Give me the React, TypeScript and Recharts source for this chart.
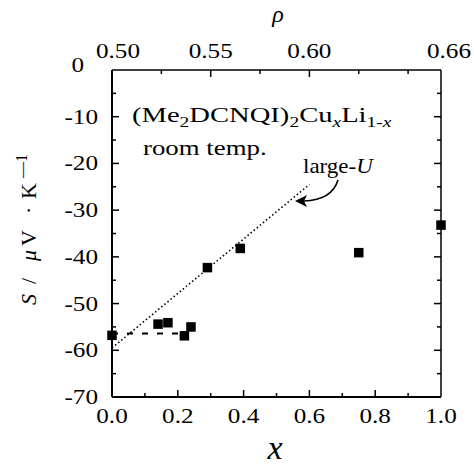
import React from 'react';
import { ComposedChart, Scatter, XAxis, YAxis } from 'recharts';

// ---- data ----
const xValues = [0.0, 0.14, 0.17, 0.22, 0.24, 0.29, 0.39, 0.75, 1.0];
const sValues = [-56.8, -54.4, -54.1, -56.9, -55.0, -42.3, -38.2, -39.1, -33.2];

const largeUX = [0.0, 0.6];
const largeUS = [-59.5, -24.5];

const flatX = [0.0, 0.23];
const flatS = [-56.4, -56.4];

const xTicks = [0, 0.1, 0.2, 0.3, 0.4, 0.5, 0.6, 0.7, 0.8, 0.9, 1.0];
const xTickLabels = ['0.0', '', '0.2', '', '0.4', '', '0.6', '', '0.8', '', '1.0'];

const sTicks = [0, -5, -10, -15, -20, -25, -30, -35, -40, -45, -50, -55, -60, -65, -70];
const sTickLabels = ['0', '', '-10', '', '-20', '', '-30', '', '-40', '', '-50', '', '-60', '', '-70'];

const rhoTicks = [0.5, 0.525, 0.55, 0.575, 0.6, 0.625, 0.65, 0.5 + 1 / 6];
const rhoTickLabels = ['0.50', '', '0.55', '', '0.60', '', '', '0.66'];

// ---- derived ----
const points = xValues.map((x, i) => ({ x, y: sValues[i] }));
const largeU = largeUX.map((x, i) => ({ x, y: largeUS[i] }));
const flat = flatX.map((x, i) => ({ x, y: flatS[i] }));
const rhoToX = (r: number) => Math.round((r - 0.5) * 6 * 1e6) / 1e6;
const topTicks = rhoTicks.map(rhoToX);

const FONT = "'Liberation Serif', 'Times New Roman', serif";
const SX = 1.2;

const findIdx = (arr: number[], v: number) => arr.findIndex((a) => Math.abs(a - v) < 1e-6);

const BottomTick = (props: any) => {
  const { x, payload } = props;
  const y = 397;
  const i = findIdx(xTicks, payload.value);
  const label = i >= 0 ? xTickLabels[i] : '';
  const major = label !== '';
  return (
    <g>
      {i > 0 && i < xTicks.length - 1 && (
        <line x1={x} x2={x} y1={y} y2={y - (major ? 7 : 4)} stroke="#000" strokeWidth={1.5} />
      )}
      {label && (
        <text transform={`translate(${x},${y + 26}) scale(${SX},1)`} textAnchor="middle" fontFamily={FONT} fontSize={21} fill="#000">
          {label}
        </text>
      )}
    </g>
  );
};

const LeftTick = (props: any) => {
  const { y, payload } = props;
  const x = 112;
  const i = findIdx(sTicks, payload.value);
  const label = i >= 0 ? sTickLabels[i] : '';
  const major = label !== '';
  const isZero = payload.value === 0;
  return (
    <g>
      {i > 0 && i < sTicks.length - 1 && (
        <line x1={x} x2={x + (major ? 7 : 4)} y1={y} y2={y} stroke="#000" strokeWidth={1.5} />
      )}
      {label && (
        <text
          transform={`translate(${isZero ? x - 28 : x - 14},${isZero ? y + 2 : y + 7}) scale(${SX},1)`}
          textAnchor="end"
          fontFamily={FONT}
          fontSize={21}
          fill="#000"
        >
          {label}
        </text>
      )}
    </g>
  );
};

const RightTick = (props: any) => {
  const { y, payload } = props;
  const x = 441;
  const i = findIdx(sTicks, payload.value);
  const major = i % 2 === 0;
  if (i <= 0 || i >= sTicks.length - 1) return <g />;
  return <line x1={x} x2={x - (major ? 7 : 4)} y1={y} y2={y} stroke="#000" strokeWidth={1.5} />;
};

const TopTick = (props: any) => {
  const { x, payload } = props;
  const y = 70;
  const i = findIdx(topTicks, payload.value);
  const label = i >= 0 ? rhoTickLabels[i] : '';
  const major = label !== '';
  const shift = i === 0 ? 6 : i === topTicks.length - 1 ? 8 : 0;
  return (
    <g>
      {i > 0 && i < topTicks.length - 1 && (
        <line x1={x} x2={x} y1={y} y2={y + (major ? 7 : 4)} stroke="#000" strokeWidth={1.5} />
      )}
      {label && (
        <text transform={`translate(${x + shift},${y - 12}) scale(${SX},1)`} textAnchor="middle" fontFamily={FONT} fontSize={21} fill="#000">
          {label}
        </text>
      )}
    </g>
  );
};

const Square = (p: any) => <rect x={p.cx - 4.75} y={p.cy - 4.75} width={9.5} height={9.5} fill="#000" />;
const NoShape = () => <g />;

export default function App() {
  return (
    <div style={{ position: 'absolute', left: 0, top: 0, width: 474, height: 466, background: '#fff' }}>
      <ComposedChart width={474} height={466} margin={{ top: 69, right: 32, bottom: 68, left: 111 }}>
        <XAxis
          xAxisId="b"
          dataKey="x"
          type="number"
          domain={[0, 1]}
          ticks={xTicks}
          interval={0}
          height={1}
          tickSize={0}
          tickMargin={0}
          tickLine={false}
          axisLine={{ stroke: '#000', strokeWidth: 2 }}
          tick={<BottomTick />}
        />
        <XAxis
          xAxisId="t"
          orientation="top"
          dataKey="x"
          type="number"
          domain={[0, 1]}
          ticks={topTicks}
          interval={0}
          height={1}
          tickSize={0}
          tickMargin={0}
          tickLine={false}
          axisLine={{ stroke: '#000', strokeWidth: 1.5 }}
          tick={<TopTick />}
        />
        <YAxis
          yAxisId="l"
          dataKey="y"
          type="number"
          domain={[-70, 0]}
          ticks={sTicks}
          interval={0}
          width={1}
          tickSize={0}
          tickMargin={0}
          tickLine={false}
          axisLine={{ stroke: '#000', strokeWidth: 2 }}
          tick={<LeftTick />}
        />
        <YAxis
          yAxisId="r"
          orientation="right"
          dataKey="y"
          type="number"
          domain={[-70, 0]}
          ticks={sTicks}
          interval={0}
          width={1}
          tickSize={0}
          tickMargin={0}
          tickLine={false}
          axisLine={{ stroke: '#000', strokeWidth: 1.5 }}
          tick={<RightTick />}
        />
        <Scatter
          xAxisId="b"
          yAxisId="l"
          data={largeU}
          line={{ stroke: '#000', strokeWidth: 1.6, strokeDasharray: '1.5 2.5' }}
          shape={<NoShape />}
          isAnimationActive={false}
        />
        <Scatter
          xAxisId="t"
          yAxisId="r"
          data={flat}
          line={{ stroke: '#000', strokeWidth: 2, strokeDasharray: '6 9' }}
          shape={<NoShape />}
          isAnimationActive={false}
        />
        <Scatter xAxisId="b" yAxisId="l" data={points} shape={<Square />} isAnimationActive={false} />
      </ComposedChart>
      <svg
        width={474}
        height={466}
        style={{ position: 'absolute', left: 0, top: 0, pointerEvents: 'none' }}
      >
        <text x={278} y={22} textAnchor="middle" fontFamily={FONT} fontSize={24} fontStyle="italic" fill="#000">
          ρ
        </text>
        <text x={275} y={459} textAnchor="middle" fontFamily={FONT} fontSize={34} fontStyle="italic" fill="#000">
          x
        </text>
        <text transform="translate(36,305) rotate(-90)" fontFamily={FONT} fontSize={22} fill="#000">
          <tspan x={0} fontStyle="italic">S</tspan>
          <tspan x={21}>/</tspan>
          <tspan x={44} fontStyle="italic">μ</tspan>
          <tspan x={59}>V</tspan>
          <tspan x={91}>·</tspan>
          <tspan x={106}>K</tspan>
          <tspan x={127} dy={-9} fontSize={16}>—1</tspan>
        </text>
        <text transform="translate(132,122) scale(1.3,1)" fontFamily={FONT} fontSize={22} fill="#000">
          (Me
          <tspan dy={5} fontSize={15}>2</tspan>
          <tspan dy={-5}>DCNQI)</tspan>
          <tspan dy={5} fontSize={15}>2</tspan>
          <tspan dy={-5}>Cu</tspan>
          <tspan dy={5} fontSize={15} fontStyle="italic">x</tspan>
          <tspan dy={-5}>Li</tspan>
          <tspan dy={5} fontSize={15}>1-</tspan>
          <tspan fontSize={15} fontStyle="italic">x</tspan>
        </text>
        <text transform="translate(143,155) scale(1.22,1)" fontFamily={FONT} fontSize={22} fill="#000">
          room temp.
        </text>
        <text transform="translate(303,173) scale(1.15,1)" fontFamily={FONT} fontSize={20} fill="#000">
          large-<tspan fontStyle="italic">U</tspan>
        </text>
        <path d="M 338 180 Q 332 200 304 201" stroke="#000" strokeWidth={1.6} fill="none" />
        <polygon points="295,201 307,195 304,201 307,207" fill="#000" />
      </svg>
    </div>
  );
}
